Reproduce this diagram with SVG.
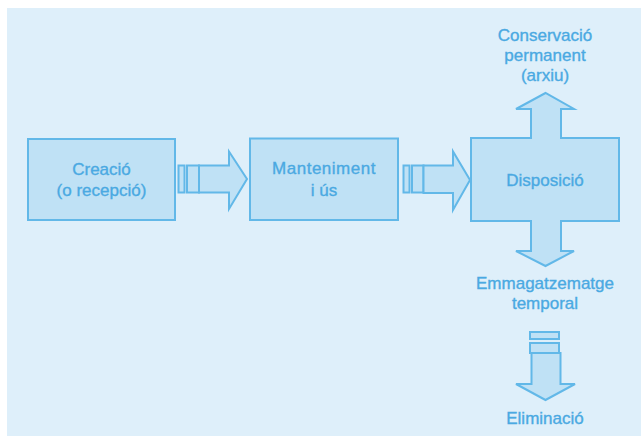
<svg xmlns="http://www.w3.org/2000/svg" width="641" height="436" viewBox="0 0 641 436">
<style>
.shape{fill:#bfe1f5;stroke:#62b8e8;stroke-width:2;stroke-linejoin:miter}
.t{font-family:"Liberation Sans",Arial,sans-serif;font-size:17px;fill:#4aa9e2;stroke:#4aa9e2;stroke-width:0.35;text-anchor:middle}
</style>
<rect x="0" y="0" width="641" height="436" fill="#ffffff"/>
<rect x="7" y="8" width="634" height="428" fill="#deeffa"/>
<g id="connectors">
<g id="arrow1">
<rect class="shape" x="178.5" y="165.5" width="6" height="27"/>
<rect class="shape" x="187" y="165.5" width="12" height="27"/>
<polygon class="shape" points="199,165.5 229,165.5 229,151.5 247,179 229,209 229,192.5 199,192.5"/>
</g>
<g id="arrow2">
<rect class="shape" x="403.5" y="165.5" width="6" height="27"/>
<rect class="shape" x="412" y="165.5" width="11.5" height="27"/>
<polygon class="shape" points="423.5,165.5 453,165.5 453,151.5 470,180 453,210 453,193 423.5,193"/>
</g>
<g id="arrow3">
<rect class="shape" x="530" y="332" width="29" height="7"/>
<rect class="shape" x="530" y="343" width="29" height="10"/>
<polygon class="shape" points="531.5,353 560.5,353 560.5,384 575,384 545.5,400 516,384 531.5,384"/>
</g>
</g>
<g id="creacio">
<rect class="shape" x="28" y="139" width="147" height="81"/>
<text class="t" x="101.5" y="175">Creació</text>
<text class="t" x="101.5" y="196">(o recepció)</text>
</g>
<g id="manteniment">
<rect class="shape" x="250" y="138.5" width="148" height="81.5"/>
<text class="t" x="324" y="174" letter-spacing="0.5">Manteniment</text>
<text class="t" x="324" y="196">i ús</text>
</g>
<g id="disposicio">
<polygon class="shape" points="471,138 531,138 531,109 516,109 545.5,93 574,109 561,109 561,138 619,138 619,221 561,221 561,251 574,251 545.5,266 516,251 531,251 531,221 471,221"/>
<text class="t" x="545" y="186">Disposició</text>
</g>
<g id="conservacio">
<text class="t" x="545" y="41">Conservació</text>
<text class="t" x="545" y="61">permanent</text>
<text class="t" x="545" y="81">(arxiu)</text>
</g>
<g id="emmagatzematge">
<text class="t" x="545" y="289">Emmagatzematge</text>
<text class="t" x="545" y="309">temporal</text>
</g>
<g id="eliminacio">
<text class="t" x="545" y="424">Eliminació</text>
</g>
</svg>
